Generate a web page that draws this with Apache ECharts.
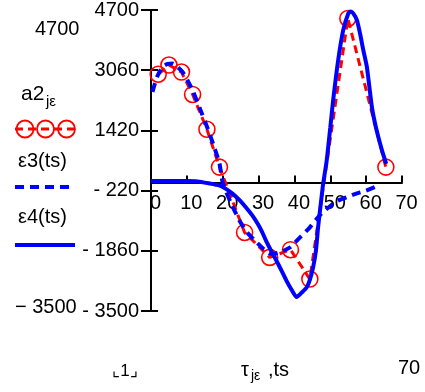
<!DOCTYPE html>
<html>
<head>
<meta charset="utf-8">
<script src="https://cdn.jsdelivr.net/npm/echarts@6/dist/echarts.min.js"></script>
<style>
html,body{margin:0;padding:0;background:#fff;}
#c{width:425px;height:392px;}
</style>
</head>
<body>
<div id="c"></div>
<script>
// ---- data ----
var a2X = [2, 5, 8.5, 11.6, 15.6, 19.1, 26.1, 33.1, 38.9, 44.3, 54.9, 65.5];
var a2Y = [2950, 3200, 3010, 2400, 1450, 420, -1360, -2040, -1830, -2630, 4470, 420];

var e3X = [0.4, 1.8, 3.2, 4.6, 6.0, 7.4, 8.8, 10.2, 11.6, 13.7, 15.8, 17.5, 19.1, 20.0, 22.3, 24.7, 27, 29.4, 31.5, 33.6, 36, 38.7, 41.5, 44.3, 47, 49.5, 52, 54.6, 57, 60, 63.5];
var e3Y = [2470, 2900, 3150, 3230, 3240, 3150, 3010, 2780, 2510, 2000, 1470, 1000, 520, 0, -560, -1040, -1380, -1620, -1820, -1950, -1900, -1770, -1500, -1220, -900, -680, -500, -400, -310, -220, -80];

var e4X = [0, 5, 10, 13, 16, 19, 21, 22.8, 24.7, 26.5, 28.2, 29.8, 31, 32.1, 33.5, 35, 36.4, 37.8, 39.2, 40.6, 42, 43.4, 44.3, 45.2, 46, 46.6, 47.3, 48, 49, 50, 50.8, 52.2, 53.6, 55, 55.7, 56.4, 57.4, 58.3, 59.2, 60.2, 61.6, 62.5, 63.4, 64.5, 65.6];
var e4Y = [40, 40, 40, 30, -20, -80, -180, -310, -480, -680, -890, -1130, -1350, -1590, -1860, -2130, -2400, -2680, -2920, -3120, -3000, -2860, -2650, -2320, -1850, -1220, -620, -40, 600, 1500, 2240, 3330, 4150, 4600, 4660, 4610, 4430, 4060, 3610, 3150, 2060, 1600, 1240, 850, 510];

var xMin = 0, xMax = 70, xStep = 10;
var yMin = -3500, yMax = 4700, yStep = 1640;

function pairs(xs, ys) { return xs.map(function (x, i) { return [x, ys[i]]; }); }

var FONT = '"Liberation Sans", Arial, sans-serif';
var RED = '#ff0000', BLUE = '#0000ff';

var chart = echarts.init(document.getElementById('c'), null, {renderer: 'canvas'});

function txt(text, x, y, size, align, vAlign) {
  return {type: 'text', x: x, y: y, silent: true,
    style: {text: text, fill: '#000', font: size + 'px ' + FONT,
      align: align || 'left', verticalAlign: vAlign || 'middle'}};
}

// plot box
var G = {left: 151, right: 23, top: 10, height: 301};
// the upper part of the plot box ends exactly at the y = 0 level (used to place x tick labels under the zero line)
var zeroFrac = yMax / (yMax - yMin);

var option = {
  animation: false,
  backgroundColor: '#fff',
  grid: [
    {left: G.left, right: G.right, top: G.top, height: G.height, containLabel: false},
    {left: G.left, right: G.right, top: G.top, height: G.height * zeroFrac, containLabel: false}
  ],
  xAxis: [{
    gridIndex: 0, type: 'value', min: xMin, max: xMax, interval: xStep,
    axisLine: {onZero: true, lineStyle: {color: '#000', width: 2}},
    axisTick: {inside: true, length: 7, lineStyle: {color: '#000', width: 2}},
    axisLabel: {show: false},
    splitLine: {show: false}
  }, {
    gridIndex: 1, type: 'value', min: xMin, max: xMax, interval: xStep,
    axisLine: {show: false, onZero: false},
    axisTick: {show: false},
    axisLabel: {color: '#000', fontSize: 20, fontFamily: FONT, margin: 11, padding: [0, 0, 0, 9]},
    splitLine: {show: false}
  }],
  yAxis: [{
    gridIndex: 0, type: 'value', min: yMin, max: yMax, interval: yStep,
    axisLine: {onZero: false, lineStyle: {color: '#000', width: 2}},
    axisTick: {inside: false, length: 10, lineStyle: {color: '#000', width: 2}},
    axisLabel: {color: '#000', fontSize: 20, fontFamily: FONT, margin: 12,
      formatter: function (v) { return v < 0 ? '- ' + Math.abs(v) : String(v); }},
    splitLine: {show: false}
  }, {
    gridIndex: 1, type: 'value', min: 0, max: yMax, show: false,
    axisLine: {show: false, onZero: false}, splitLine: {show: false}
  }, {
    gridIndex: 0, type: 'value', min: yMin, max: yMax, interval: yStep, position: 'left',
    axisLine: {show: false, onZero: false},
    axisTick: {inside: true, length: 7, lineStyle: {color: '#000', width: 2}},
    axisLabel: {show: false},
    splitLine: {show: false}
  }],
  series: [{
    type: 'line', name: 'a2', data: pairs(a2X, a2Y), z: 2,
    xAxisIndex: 0, yAxisIndex: 0,
    symbol: 'circle', symbolSize: 16,
    itemStyle: {color: 'rgba(0,0,0,0)', borderColor: RED, borderWidth: 1.6},
    lineStyle: {color: RED, width: 3, type: [8, 5]}
  }, {
    type: 'line', name: 'e3', data: pairs(e3X, e3Y), z: 3,
    xAxisIndex: 0, yAxisIndex: 0,
    showSymbol: false, smooth: 0.2,
    lineStyle: {color: BLUE, width: 4, type: [9, 6]}
  }, {
    type: 'line', name: 'e4', data: pairs(e4X, e4Y), z: 4,
    xAxisIndex: 0, yAxisIndex: 0,
    showSymbol: false, smooth: 0.2,
    lineStyle: {color: BLUE, width: 4}
  }],
  graphic: [
    txt('4700', 35, 29, 20),
    txt('a2', 21, 94, 21),
    txt('jε', 46, 102, 15),
    {type: 'line', silent: true, shape: {x1: 15, y1: 129, x2: 76, y2: 129},
      style: {stroke: RED, lineWidth: 3, lineDash: [8, 5]}},
    {type: 'circle', silent: true, shape: {cx: 25, cy: 129, r: 8.5}, style: {fill: 'none', stroke: RED, lineWidth: 1.8}},
    {type: 'circle', silent: true, shape: {cx: 45.5, cy: 129, r: 8.5}, style: {fill: 'none', stroke: RED, lineWidth: 1.8}},
    {type: 'circle', silent: true, shape: {cx: 66.5, cy: 129, r: 8.5}, style: {fill: 'none', stroke: RED, lineWidth: 1.8}},
    txt('ε3(ts)', 18, 161, 20),
    {type: 'line', silent: true, shape: {x1: 15, y1: 187, x2: 74, y2: 187},
      style: {stroke: BLUE, lineWidth: 4, lineDash: [9, 6]}},
    txt('ε4(ts)', 18, 217, 20),
    {type: 'line', silent: true, shape: {x1: 15, y1: 245, x2: 75, y2: 245},
      style: {stroke: BLUE, lineWidth: 4}},
    txt('− 3500', 15, 307, 20),
    txt('⌞1⌟', 125, 371, 17, 'center'),
    txt('τ', 241, 370, 20),
    txt('jε', 251, 376, 14),
    txt(',ts', 268, 370, 20),
    txt('70', 398, 368, 20)
  ]
};
chart.setOption(option);
</script>
</body>
</html>
